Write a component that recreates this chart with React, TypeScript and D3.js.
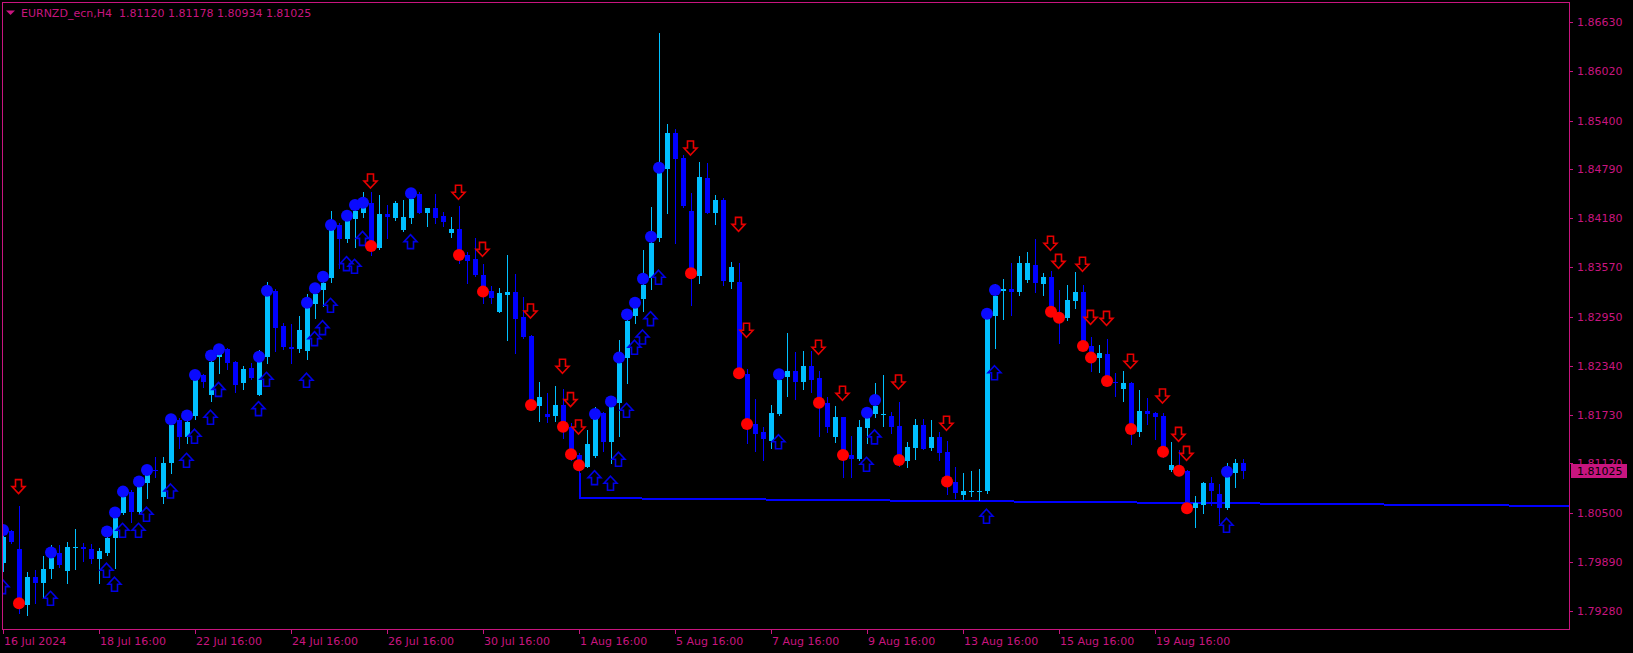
import React, { useEffect } from "react";
import * as d3 from "d3";

// ---------- DATA ----------
const opens = [
  1.79882, 1.80277, 1.80052, 1.79353, 1.79703, 1.79632, 1.79803, 1.79998, 1.79782, 1.80073,
  1.80081, 1.80048, 1.79932, 1.80007, 1.80185, 1.80498, 1.80768, 1.80518, 1.80880, 1.81038,
  1.80706, 1.81122, 1.81663, 1.81446, 1.81717, 1.82224, 1.81975, 1.82453, 1.82545, 1.82391,
  1.82120, 1.82308, 1.81975, 1.82445, 1.83273, 1.82836, 1.82570, 1.82545, 1.82524, 1.83111,
  1.83285, 1.83439, 1.84097, 1.83918, 1.84172, 1.84242, 1.84367, 1.83814, 1.84234, 1.84188,
  1.84034, 1.84188, 1.84484, 1.84251, 1.84305, 1.84209, 1.83993, 1.84043, 1.83722, 1.83668,
  1.83468, 1.83273, 1.83015, 1.83227, 1.83260, 1.82944, 1.82715, 1.81837, 1.81737, 1.81717,
  1.81850, 1.81580, 1.81226, 1.81080, 1.81218, 1.81746, 1.81392, 1.81879, 1.82433, 1.82961,
  1.83173, 1.83431, 1.83931, 1.84796, 1.85250, 1.84938, 1.84272, 1.83465, 1.84688, 1.84251,
  1.84409, 1.83390, 1.83381, 1.82237, 1.81613, 1.81509, 1.81405, 1.81738, 1.82204, 1.82274,
  1.82141, 1.82337, 1.82191, 1.81871, 1.81446, 1.81696, 1.81226, 1.81172, 1.81559, 1.81738,
  1.81733, 1.81713, 1.81588, 1.81155, 1.81317, 1.81600, 1.81317, 1.81455, 1.81267, 1.80885,
  1.80726, 1.80776, 1.80776, 1.80776, 1.82965, 1.83277, 1.83298, 1.83264, 1.83410, 1.83597,
  1.83360, 1.83443, 1.82994, 1.82940, 1.83152, 1.83264, 1.82586, 1.82432, 1.82486, 1.82141,
  1.82045, 1.82120, 1.81517, 1.81775, 1.81754, 1.81712, 1.81038, 1.81072, 1.81030, 1.80560,
  1.80601, 1.80872, 1.80739, 1.80560, 1.81005, 1.81120,
];
const highs = [
  1.80248, 1.80289, 1.80589, 1.79769, 1.79790, 1.79965, 1.80102, 1.80102, 1.80144, 1.80302,
  1.80123, 1.80115, 1.80069, 1.80248, 1.80518, 1.80747, 1.80789, 1.80872, 1.81018, 1.81205,
  1.81205, 1.81642, 1.81683, 1.81683, 1.82204, 1.82237, 1.82432, 1.82557, 1.82557, 1.82403,
  1.82337, 1.82370, 1.82536, 1.83381, 1.83294, 1.82878, 1.82861, 1.82965, 1.83235, 1.83285,
  1.83431, 1.84272, 1.84126, 1.84201, 1.84326, 1.84513, 1.84513, 1.84471, 1.84346, 1.84396,
  1.84409, 1.84542, 1.84513, 1.84305, 1.84484, 1.84263, 1.84201, 1.84334, 1.83764, 1.83930,
  1.83610, 1.83335, 1.83315, 1.83722, 1.83485, 1.83202, 1.82724, 1.82133, 1.81996, 1.82087,
  1.82045, 1.81621, 1.81247, 1.81538, 1.81829, 1.81767, 1.81912, 1.82661, 1.82953, 1.83202,
  1.83785, 1.84326, 1.86490, 1.85358, 1.85291, 1.84971, 1.84501, 1.84879, 1.84867, 1.84471,
  1.84438, 1.83631, 1.83618, 1.82295, 1.81925, 1.81571, 1.81850, 1.82295, 1.82753, 1.82516,
  1.82524, 1.82524, 1.82274, 1.81946, 1.81837, 1.81704, 1.81463, 1.81663, 1.81796, 1.82129,
  1.82224, 1.81767, 1.81892, 1.81392, 1.81675, 1.81675, 1.81663, 1.81517, 1.81401, 1.81080,
  1.81005, 1.81026, 1.81051, 1.83056, 1.83356, 1.83423, 1.83626, 1.83710, 1.83755, 1.83922,
  1.83493, 1.83522, 1.83285, 1.83348, 1.83514, 1.83348, 1.82703, 1.82599, 1.82673, 1.82245,
  1.82274, 1.82141, 1.82037, 1.81941, 1.81766, 1.81746, 1.81392, 1.81288, 1.81038, 1.80714,
  1.80893, 1.80947, 1.80863, 1.81121, 1.81176, 1.81178,
];
const lows = [
  1.79782, 1.80123, 1.79249, 1.79228, 1.79382, 1.79457, 1.79686, 1.79832, 1.79632, 1.79798,
  1.79907, 1.79873, 1.79624, 1.79977, 1.79811, 1.80489, 1.80393, 1.80485, 1.80685, 1.80955,
  1.80622, 1.80997, 1.81309, 1.81380, 1.81671, 1.82070, 1.81904, 1.82253, 1.82295, 1.82016,
  1.82045, 1.82170, 1.81970, 1.82378, 1.82528, 1.82545, 1.82378, 1.82516, 1.82420, 1.82940,
  1.83086, 1.83389, 1.83556, 1.83889, 1.83826, 1.84201, 1.83722, 1.83793, 1.83930, 1.84159,
  1.84022, 1.84118, 1.84242, 1.84084, 1.84118, 1.84084, 1.83943, 1.83618, 1.83369, 1.83460,
  1.83119, 1.83119, 1.83007, 1.82661, 1.82503, 1.82682, 1.81829, 1.81654, 1.81642, 1.81654,
  1.81434, 1.81163, 1.80997, 1.81072, 1.81205, 1.81280, 1.81130, 1.81463, 1.82121, 1.82878,
  1.83028, 1.83294, 1.83901, 1.84251, 1.83876, 1.84318, 1.83098, 1.83377, 1.84243, 1.84109,
  1.83348, 1.83306, 1.82224, 1.81372, 1.81280, 1.81163, 1.81309, 1.81730, 1.81962, 1.81925,
  1.82050, 1.82016, 1.81463, 1.81517, 1.81392, 1.80955, 1.80947, 1.81164, 1.81380, 1.81704,
  1.81588, 1.81496, 1.81088, 1.81080, 1.81172, 1.81297, 1.81288, 1.81164, 1.80735, 1.80685,
  1.80677, 1.80714, 1.80664, 1.80755, 1.82565, 1.82923, 1.82973, 1.83223, 1.83381, 1.83264,
  1.83223, 1.82994, 1.82628, 1.82911, 1.83056, 1.82578, 1.82278, 1.82266, 1.82120, 1.81966,
  1.81900, 1.81363, 1.81463, 1.81612, 1.81425, 1.81205, 1.81030, 1.80997, 1.80539, 1.80323,
  1.80497, 1.80601, 1.80372, 1.80547, 1.80822, 1.80934,
];
const closes = [
  1.80206, 1.80144, 1.79436, 1.79707, 1.79632, 1.79803, 1.79936, 1.79853, 1.80073, 1.80081,
  1.80048, 1.79932, 1.80027, 1.80194, 1.80435, 1.80706, 1.80518, 1.80830, 1.80976, 1.81030,
  1.81130, 1.81600, 1.81446, 1.81642, 1.82162, 1.82141, 1.82391, 1.82486, 1.82378, 1.82100,
  1.82299, 1.82191, 1.82382, 1.83215, 1.82815, 1.82570, 1.82553, 1.82786, 1.83057, 1.83235,
  1.83377, 1.84034, 1.83918, 1.84151, 1.84276, 1.84346, 1.83835, 1.84234, 1.84192, 1.84376,
  1.84201, 1.84417, 1.84251, 1.84305, 1.84188, 1.84138, 1.84043, 1.83722, 1.83652, 1.83473,
  1.83265, 1.83190, 1.83244, 1.83260, 1.82923, 1.82703, 1.81850, 1.81946, 1.81704, 1.81850,
  1.81579, 1.81226, 1.81163, 1.81363, 1.81671, 1.81392, 1.81829, 1.82370, 1.82903, 1.83057,
  1.83348, 1.83876, 1.84742, 1.85250, 1.84921, 1.84334, 1.83494, 1.84700, 1.84251, 1.84409,
  1.83398, 1.83569, 1.82245, 1.81613, 1.81488, 1.81422, 1.81746, 1.82162, 1.82274, 1.82141,
  1.82337, 1.82162, 1.81879, 1.81571, 1.81704, 1.81226, 1.81172, 1.81579, 1.81683, 1.81837,
  1.81733, 1.81571, 1.81164, 1.81330, 1.81600, 1.81301, 1.81455, 1.81255, 1.80893, 1.80747,
  1.80776, 1.80776, 1.80780, 1.82919, 1.83210, 1.83298, 1.83264, 1.83626, 1.83626, 1.83368,
  1.83452, 1.83015, 1.82952, 1.83160, 1.83264, 1.82586, 1.82441, 1.82495, 1.82149, 1.82120,
  1.82120, 1.81550, 1.81775, 1.81737, 1.81696, 1.81267, 1.81101, 1.81030, 1.80581, 1.80622,
  1.80872, 1.80780, 1.80560, 1.80947, 1.81121, 1.81025,
];

// buy signals: [bar index, dot price, arrow price]
const buyDots: [number, number][] = [
  [0, 1.80289], [6, 1.80007], [13, 1.80269], [14, 1.80506], [15, 1.80768], [17, 1.80893],
  [18, 1.81038], [21, 1.81671], [23, 1.81717], [24, 1.82224], [26, 1.82466], [27, 1.82545],
  [32, 1.82453], [33, 1.83277], [38, 1.83127], [39, 1.83306], [40, 1.83452], [41, 1.84097],
  [43, 1.84213], [44, 1.84346], [45, 1.84376], [51, 1.84492], [74, 1.81738], [76, 1.81892],
  [77, 1.82441], [78, 1.82978], [79, 1.83127], [80, 1.83427], [81, 1.83951], [82, 1.84813],
  [97, 1.82233], [108, 1.81754], [109, 1.81912], [123, 1.82990], [124, 1.83285], [153, 1.81017],
];
const buyArrows: [number, number][] = [
  [0, 1.79582], [6, 1.79436], [13, 1.79786], [14, 1.79611], [15, 1.80285], [17, 1.80285],
  [18, 1.80485], [21, 1.80776], [23, 1.81159], [24, 1.81459], [26, 1.81696], [27, 1.82045],
  [32, 1.81804], [33, 1.82170], [38, 1.82158], [39, 1.82678], [40, 1.82815], [41, 1.83094],
  [43, 1.83614], [44, 1.83581], [45, 1.83930], [51, 1.83889], [74, 1.80943], [76, 1.80872],
  [77, 1.81172], [78, 1.81783], [79, 1.82570], [80, 1.82699], [81, 1.82928], [82, 1.83444],
  [97, 1.81390], [108, 1.81109], [109, 1.81451], [123, 1.80460], [124, 1.82253], [153, 1.80348],
];
const sellDots: [number, number][] = [
  [2, 1.79374], [46, 1.83835], [57, 1.83722], [60, 1.83265], [66, 1.81850], [70, 1.81579],
  [71, 1.81234], [72, 1.81097], [86, 1.83494], [92, 1.82245], [93, 1.81613], [102, 1.81879],
  [105, 1.81226], [112, 1.81164], [118, 1.80893], [131, 1.83015], [132, 1.82940], [135, 1.82586],
  [136, 1.82441], [138, 1.82149], [141, 1.81550], [145, 1.81267], [147, 1.81030], [148, 1.80560],
];
const sellArrows: [number, number][] = [
  [2, 1.80830], [46, 1.84646], [57, 1.84505], [60, 1.83793], [66, 1.83023], [70, 1.82333],
  [71, 1.81916], [72, 1.81575], [86, 1.85058], [92, 1.84105], [93, 1.82782], [102, 1.82570],
  [105, 1.81996], [112, 1.82137], [118, 1.81621], [131, 1.83868], [132, 1.83643], [135, 1.83606],
  [136, 1.82944], [138, 1.82931], [141, 1.82395], [145, 1.81962], [147, 1.81483], [148, 1.81246],
];

// support line: [bar index, price]
const supportLine: [number, number][] = [
  [72, 1.80997], [72, 1.80689], [195.75, 1.80588],
];

const priceTicks = [
  1.8663, 1.8602, 1.854, 1.8479, 1.8418, 1.8357, 1.8295, 1.8234, 1.8173, 1.8112, 1.805,
  1.7989, 1.7928,
];
const timeTickIdx = [0, 12, 24, 36, 48, 60, 72, 84, 96, 108, 120, 132, 144];
const timeTickLabels = [
  "16 Jul 2024", "18 Jul 16:00", "22 Jul 16:00", "24 Jul 16:00", "26 Jul 16:00",
  "30 Jul 16:00", "1 Aug 16:00", "5 Aug 16:00", "7 Aug 16:00", "9 Aug 16:00",
  "13 Aug 16:00", "15 Aug 16:00", "19 Aug 16:00",
];
const symbol = "EURNZD_ecn,H4";
const lastPrice = 1.81025;

// ---------- STYLE ----------
const W = 1633;
const H = 653;
const MAG = "#C8157F";
const BULL = "#00BFFF";
const BEAR = "#0000FF";
const FONT = "'DejaVu Sans', sans-serif";
const plot = { left: 2.5, top: 2.5, right: 1569.5, bottom: 629.5 };

function upArrow(cx: number, cy: number) {
  return `M${cx},${cy - 7} L${cx + 6.5},${cy} L${cx + 3},${cy} L${cx + 3},${cy + 7} L${cx - 3},${cy + 7} L${cx - 3},${cy} L${cx - 6.5},${cy} Z`;
}
function downArrow(cx: number, cy: number) {
  return `M${cx},${cy + 7} L${cx + 6.5},${cy} L${cx + 3},${cy} L${cx + 3},${cy - 7} L${cx - 3},${cy - 7} L${cx - 3},${cy} L${cx - 6.5},${cy} Z`;
}

export default function App() {
  useEffect(() => {
    document.body.style.margin = "0";
    document.body.style.background = "#000";
  }, []);

  const x = d3.scaleLinear().domain([0, 1]).range([3.5, 11.5]);
  const y = d3.scaleLinear().domain([1.7928, 1.8663]).range([610.8, 22.1]);

  const title = `${symbol}  ${opens[opens.length - 1].toFixed(5)} ${highs[highs.length - 1].toFixed(5)} ${lows[lows.length - 1].toFixed(5)} ${closes[closes.length - 1].toFixed(5)}`;

  const lineGen = d3
    .line<[number, number]>()
    .x((d) => x(d[0]))
    .y((d) => Math.round(y(d[1])));

  return (
    <svg width={W} height={H} style={{ display: "block", background: "#000" }}>
      <defs>
        <clipPath id="plotclip">
          <rect x={3} y={3} width={1566} height={626} />
        </clipPath>
      </defs>
      <rect x={0} y={0} width={W} height={H} fill="#000" />

      <g clipPath="url(#plotclip)">
        {/* support line */}
        <path
          d={lineGen(supportLine) || ""}
          fill="none"
          stroke="#0000FF"
          strokeWidth={2}
          shapeRendering="crispEdges"
        />
        {/* candles */}
        {opens.map((o, i) => {
          const c = closes[i];
          const bull = c >= o;
          const col = bull ? BULL : BEAR;
          const cx = x(i);
          const yTop = Math.round(y(Math.max(o, c)));
          const yBot = Math.round(y(Math.min(o, c)));
          return (
            <g key={i} shapeRendering="crispEdges">
              <line
                x1={cx}
                x2={cx}
                y1={Math.round(y(highs[i]))}
                y2={Math.round(y(lows[i])) + 1}
                stroke={col}
                strokeWidth={1}
              />
              <rect
                x={cx - 2.5}
                y={yTop}
                width={5}
                height={Math.max(1, yBot - yTop)}
                fill={col}
              />
            </g>
          );
        })}
        {/* buy markers */}
        {buyArrows.map(([i, p]) => (
          <path
            key={"ba" + i}
            d={upArrow(x(i) - 1, y(p))}
            fill="none"
            stroke="#0000E6"
            strokeWidth={1.6}
          />
        ))}
        {buyDots.map(([i, p]) => (
          <circle key={"bd" + i} cx={x(i) - 0.5} cy={y(p)} r={6} fill="#0A0AFF" />
        ))}
        {/* sell markers */}
        {sellArrows.map(([i, p]) => (
          <path
            key={"sa" + i}
            d={downArrow(x(i) - 1, y(p))}
            fill="none"
            stroke="#E60000"
            strokeWidth={1.6}
          />
        ))}
        {sellDots.map(([i, p]) => (
          <circle key={"sd" + i} cx={x(i) - 0.5} cy={y(p)} r={6} fill="#FF0000" />
        ))}
      </g>

      {/* frame */}
      <rect
        x={plot.left}
        y={plot.top}
        width={plot.right - plot.left}
        height={plot.bottom - plot.top}
        fill="none"
        stroke={MAG}
        strokeWidth={1}
        shapeRendering="crispEdges"
      />

      {/* title */}
      <path d="M6,10.5 L15,10.5 L10.5,15 Z" fill={MAG} />
      <text
        x={21}
        y={16.5}
        fill={MAG}
        fontFamily={FONT}
        fontSize={11}
        style={{ whiteSpace: "pre" }}
      >
        {title}
      </text>

      {/* price axis */}
      {priceTicks.map((p) => (
        <g key={p}>
          <line
            x1={1570}
            x2={1573}
            y1={Math.round(y(p)) + 0.5}
            y2={Math.round(y(p)) + 0.5}
            stroke={MAG}
            shapeRendering="crispEdges"
          />
          <text
            x={1577}
            y={y(p) + 4}
            fill={MAG}
            fontFamily={FONT}
            fontSize={11}
          >
            {p.toFixed(5)}
          </text>
        </g>
      ))}
      <rect
        x={1571}
        y={Math.round(y(lastPrice)) - 7}
        width={56}
        height={14}
        fill={MAG}
      />
      <text
        x={1577}
        y={y(lastPrice) + 4}
        fill="#000"
        fontFamily={FONT}
        fontSize={11}
      >
        {lastPrice.toFixed(5)}
      </text>

      {/* time axis */}
      {timeTickIdx.map((k, j) => (
        <g key={k}>
          <line
            x1={Math.floor(x(k)) + 0.5}
            x2={Math.floor(x(k)) + 0.5}
            y1={630}
            y2={634}
            stroke={MAG}
            shapeRendering="crispEdges"
          />
          <text
            x={Math.floor(x(k)) + 1}
            y={645}
            fill={MAG}
            fontFamily={FONT}
            fontSize={11}
          >
            {timeTickLabels[j]}
          </text>
        </g>
      ))}
    </svg>
  );
}
